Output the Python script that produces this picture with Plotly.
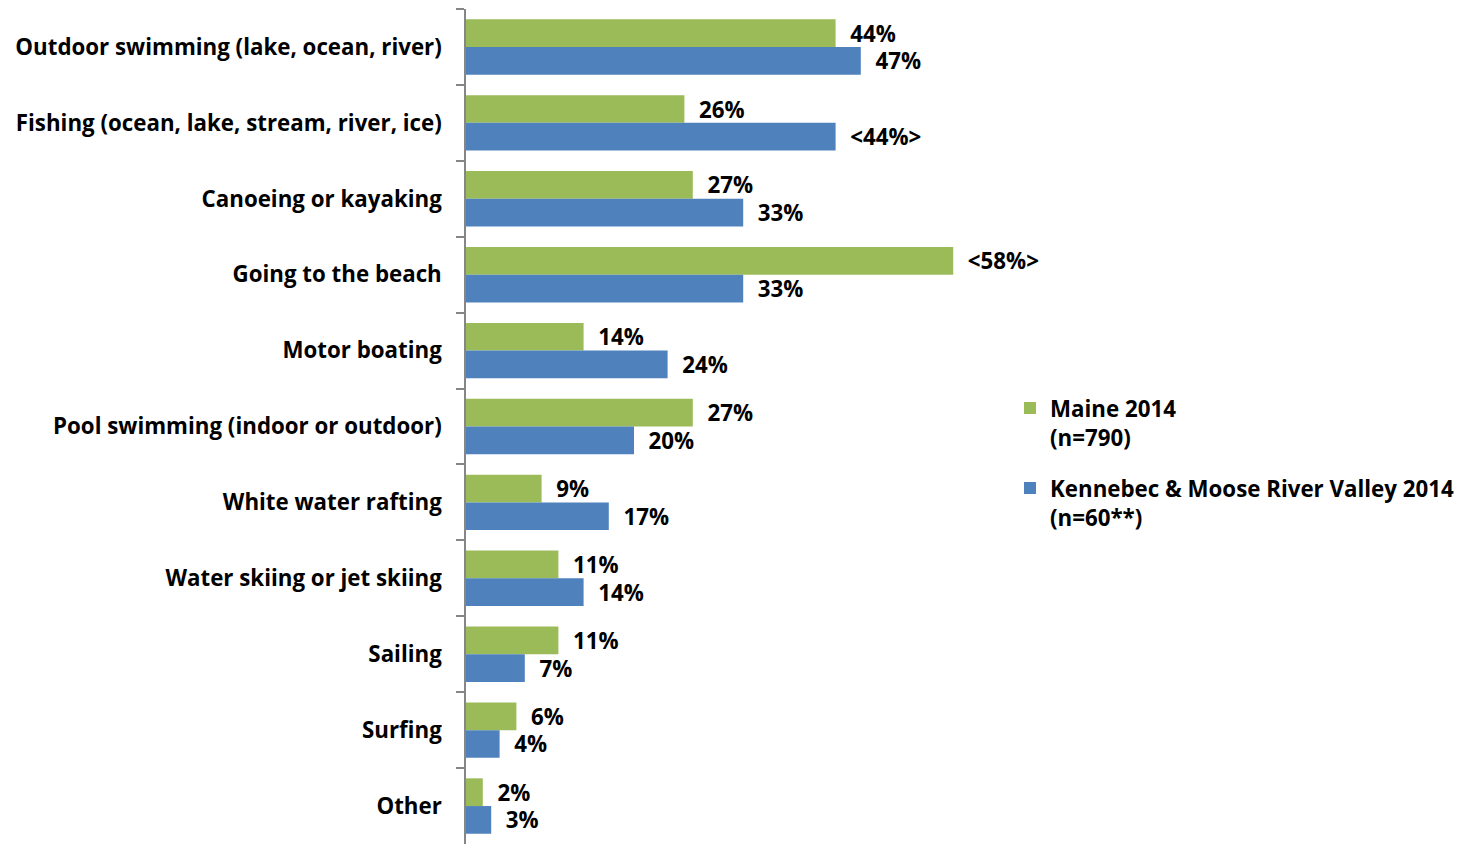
import plotly.graph_objects as go

# Water activities participated in, percent of respondents
activities = [
    "Outdoor swimming (lake, ocean, river)",
    "Fishing (ocean, lake, stream, river, ice)",
    "Canoeing or kayaking",
    "Going to the beach",
    "Motor boating",
    "Pool swimming (indoor or outdoor)",
    "White water rafting",
    "Water skiing or jet skiing",
    "Sailing",
    "Surfing",
    "Other",
]
maine_2014 = [44, 26, 27, 58, 14, 27, 9, 11, 11, 6, 2]
kennebec_2014 = [47, 44, 33, 33, 24, 20, 17, 14, 7, 4, 3]
# Statistically significant differences are shown in angle brackets
maine_sig = [False, False, False, True, False, False, False, False, False, False, False]
kennebec_sig = [False, True, False, False, False, False, False, False, False, False, False]

series_names = ["Maine 2014<br>(n=790)", "Kennebec & Moose River Valley 2014<br>(n=60**)"]
GREEN = "#9BBB59"
BLUE = "#4F81BD"
FONT = "Open Sans"
FSIZE = 22.3
PAD = "\u00a0\u00a0"

# plot area geometry (pixels)
L, R, T, B = 466, 1054, 9, 844


def labels(values, sig):
    out = []
    for v, s in zip(values, sig):
        t = f"{v}%"
        if s:
            t = f"&lt;{t}&gt;"
        out.append(PAD + t)
    return out


fig = go.Figure()
for name, vals, sig, color, grp in [
    (series_names[0], maine_2014, maine_sig, GREEN, "a"),
    (series_names[1], kennebec_2014, kennebec_sig, BLUE, "b"),
]:
    fig.add_trace(go.Bar(
        y=activities,
        x=vals,
        orientation="h",
        name=name,
        legendgroup=grp,
        marker=dict(color=color, line=dict(width=0)),
        text=labels(vals, sig),
        textposition="outside",
        constraintext="none",
        cliponaxis=False,
        textfont=dict(family=FONT, size=FSIZE, color="#000000", weight="bold"),
        hoverinfo="skip",
    ))

fig.update_layout(
    width=1478,
    height=844,
    margin=dict(l=L, r=1478 - R, t=T, b=844 - B, autoexpand=False),
    paper_bgcolor="white",
    plot_bgcolor="white",
    barmode="group",
    bargap=0.27,
    bargroupgap=0,
    showlegend=True,
    legend=dict(
        x=(1010 - L) / (R - L), y=(B - 387) / (B - T),
        xanchor="left", yanchor="top",
        valign="top",
        traceorder="grouped",
        tracegroupgap=19,
        font=dict(family=FONT, size=FSIZE, color="#000000", weight="bold"),
        bgcolor="rgba(0,0,0,0)",
    ),
    xaxis=dict(
        range=[0, 70],
        visible=False,
        fixedrange=True,
    ),
    yaxis=dict(
        autorange="reversed",
        showline=True,
        linecolor="#868686",
        linewidth=1.5,
        ticks="outside",
        tickson="boundaries",
        ticklen=8,
        tickcolor="#868686",
        tickwidth=1.5,
        ticklabelstandoff=18,
        showgrid=False,
        zeroline=False,
        tickfont=dict(family=FONT, size=FSIZE, color="#000000", weight="bold"),
        fixedrange=True,
    ),
)

fig.write_html("out.html")
